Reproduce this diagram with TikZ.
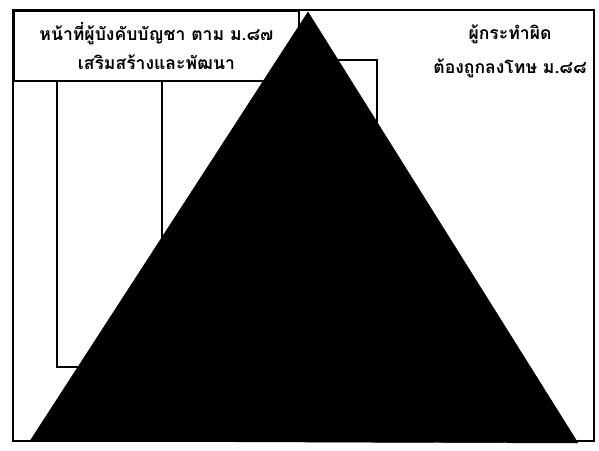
\documentclass[tikz,border=0pt]{standalone}
\usepackage{fontspec}
\newfontfamily\thaifont[Script=Thai]{Loma}
\usetikzlibrary{positioning, calc}

\begin{document}
\begin{tikzpicture}[
    x=0.03cm, y=-0.03cm,
    % Estilos
    frame/.style={draw=black, line width=1.5pt},
    dutybox/.style={
        draw=black, line width=1.5pt, anchor=north west,
        minimum width=8.55cm, minimum height=2.1cm, inner sep=0pt
    },
    thaitext/.style={
        font=\thaifont\bfseries\fontsize{15}{18}\selectfont,
        align=center, inner sep=0pt
    },
    link/.style={draw=black, line width=1.3pt},
    pyramid/.style={fill=black, draw=black}
]
    \useasboundingbox (0,0) rectangle (599,450);

    % 1. Marco exterior
    \draw[frame] (13,10) rectangle (594,441);

    % 2. Caja superior izquierda y texto derecho
    \node[dutybox, thaitext] (duty) at (13,10)
        {หน้าที่ผู้บังคับบัญชา ตาม ม.๘๗\\[0.22cm]เสริมสร้างและพัฒนา};
    \node[thaitext] (guilty) at (510,51)
        {ผู้กระทำผิด\\[0.38cm]ต้องถูกลงโทษ ม.๘๘};

    % 3. Extremos de los conectores
    \coordinate (endA) at (78,367);
    \coordinate (endB) at (162,245);
    \coordinate (sideA) at (330,60);
    \coordinate (sideB) at (377,125);

    % 4. Conectores
    \draw[link] ([xshift=1.32cm]duty.south west) |- (endA);
    \draw[link] ([xshift=4.47cm]duty.south west) -- ([xshift=4.47cm]duty.south west |- endB);
    \draw[link] (sideA) -| (sideB);

    % 5. Triangulo
    \coordinate (apex)  at (308,12);
    \coordinate (baseL) at (30,441);
    \coordinate (baseR) at (578,443);
    \fill[pyramid] (apex) -- (baseL) -- (baseR) -- cycle;

\end{tikzpicture}
\end{document}
